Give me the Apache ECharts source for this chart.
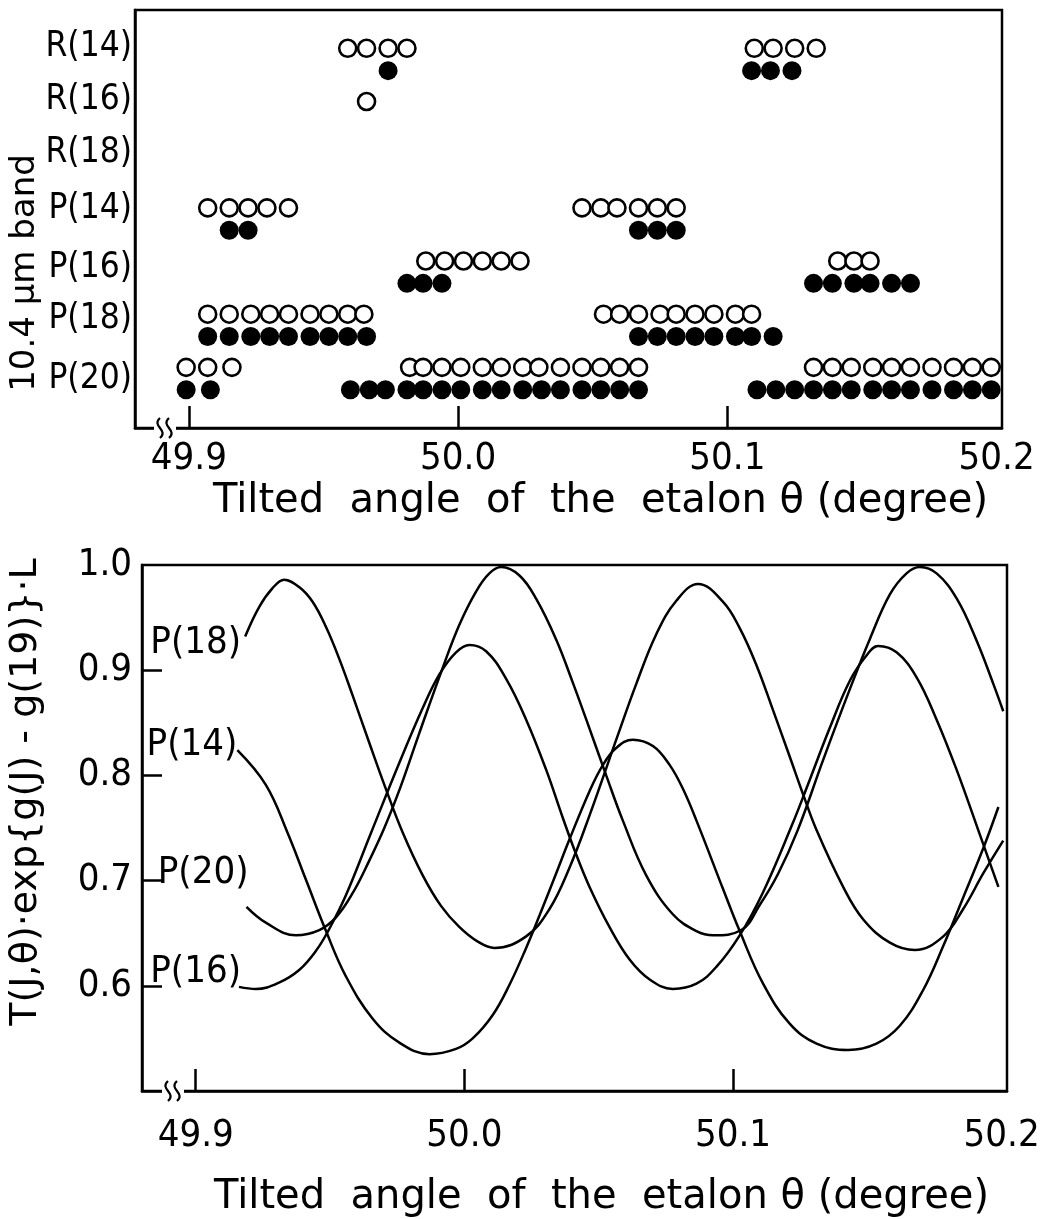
<!DOCTYPE html>
<html><head><meta charset="utf-8">
<script src="https://cdn.jsdelivr.net/npm/echarts@6/dist/echarts.min.js"></script>
<style>html,body{margin:0;padding:0;background:#fff}#c{width:1049px;height:1219px}</style>
</head><body><div id="c"></div>
<script>
// ---------- data ----------
const angleTicks = [49.9, 50.0, 50.1, 50.2];
const bandRows = ['P(20)', 'P(18)', 'P(16)', 'P(14)', 'R(18)', 'R(16)', 'R(14)'];
const valueTicks = [0.6, 0.7, 0.8, 0.9, 1.0];

// top panel: oscillating (open) / single-mode (filled) angles per line
const openP20 = [49.899, 49.907, 49.916, 49.982, 49.987, 49.994, 50.001, 50.009, 50.016, 50.024, 50.030, 50.038, 50.046, 50.053, 50.060, 50.067, 50.132, 50.139, 50.146, 50.154, 50.161, 50.168, 50.176, 50.184, 50.191, 50.198];
const filledP20 = [49.899, 49.908, 49.960, 49.967, 49.973, 49.981, 49.987, 49.994, 50.001, 50.009, 50.016, 50.024, 50.031, 50.038, 50.046, 50.053, 50.060, 50.067, 50.111, 50.118, 50.125, 50.132, 50.139, 50.146, 50.154, 50.161, 50.168, 50.176, 50.184, 50.191, 50.198];
const openP18 = [49.907, 49.915, 49.923, 49.930, 49.937, 49.945, 49.952, 49.959, 49.965, 50.054, 50.060, 50.067, 50.075, 50.081, 50.088, 50.095, 50.103, 50.109];
const filledP18 = [49.907, 49.915, 49.923, 49.930, 49.937, 49.945, 49.952, 49.959, 49.966, 50.067, 50.074, 50.081, 50.088, 50.095, 50.103, 50.109, 50.117];
const openP16 = [49.988, 49.995, 50.002, 50.009, 50.016, 50.023, 50.141, 50.147, 50.153];
const filledP16 = [49.981, 49.987, 49.994, 50.132, 50.139, 50.147, 50.153, 50.161, 50.168];
const openP14 = [49.907, 49.915, 49.922, 49.929, 49.937, 50.046, 50.053, 50.059, 50.067, 50.074, 50.081];
const filledP14 = [49.915, 49.922, 50.067, 50.074, 50.081];
const openR18 = [];
const filledR18 = [];
const openR16 = [49.966];
const filledR16 = [];
const openR14 = [49.959, 49.966, 49.974, 49.981, 50.110, 50.117, 50.125, 50.133];
const filledR14 = [49.974, 50.109, 50.116, 50.124];

// bottom panel: [angle, T·exp{g(J)-g(19)}·L]
const curveP18 = [[49.9184,0.932],[49.9236,0.960],[49.9286,0.978],[49.9329,0.986],[49.9385,0.979],[49.9435,0.965],[49.9485,0.941],[49.9534,0.911],[49.9584,0.876],[49.9646,0.831],[49.9708,0.787],[49.9770,0.746],[49.9845,0.705],[49.9913,0.676],[49.9981,0.656],[50.0050,0.642],[50.0112,0.636],[50.0230,0.647],[50.0317,0.673],[50.0391,0.712],[50.0466,0.762],[50.0571,0.838],[50.0640,0.887],[50.0714,0.934],[50.0789,0.966],[50.0870,0.982],[50.0963,0.965],[50.1025,0.940],[50.1087,0.905],[50.1149,0.862],[50.1211,0.818],[50.1261,0.782],[50.1311,0.748],[50.1410,0.694],[50.1485,0.663],[50.1584,0.641],[50.1677,0.634],[50.1783,0.647],[50.1857,0.673],[50.1932,0.707],[50.2006,0.738]];
const curveP14 = [[49.9155,0.824],[49.9261,0.791],[49.9341,0.746],[49.9410,0.701],[49.9485,0.652],[49.9559,0.609],[49.9658,0.569],[49.9758,0.546],[49.9870,0.535],[49.9969,0.540],[50.0031,0.550],[50.0105,0.572],[50.0168,0.601],[50.0230,0.636],[50.0280,0.667],[50.0342,0.707],[50.0391,0.739],[50.0466,0.785],[50.0516,0.810],[50.0565,0.826],[50.0627,0.834],[50.0702,0.828],[50.0764,0.810],[50.0814,0.787],[50.0864,0.757],[50.0963,0.692],[50.1025,0.652],[50.1112,0.602],[50.1211,0.564],[50.1311,0.545],[50.1429,0.539],[50.1534,0.545],[50.1621,0.562],[50.1708,0.596],[50.1783,0.638],[50.1857,0.684],[50.1932,0.731],[50.1988,0.770]];
const curveP20 = [[49.9189,0.675],[49.9261,0.660],[49.9373,0.648],[49.9460,0.653],[49.9522,0.665],[49.9584,0.688],[49.9646,0.719],[49.9702,0.750],[49.9758,0.786],[49.9832,0.840],[49.9919,0.902],[49.9981,0.943],[50.0044,0.975],[50.0093,0.992],[50.0137,0.998],[50.0205,0.990],[50.0267,0.968],[50.0342,0.929],[50.0404,0.888],[50.0454,0.853],[50.0528,0.800],[50.0590,0.757],[50.0677,0.705],[50.0776,0.668],[50.0864,0.652],[50.0926,0.648],[50.1031,0.653],[50.1100,0.677],[50.1167,0.706],[50.1241,0.748],[50.1336,0.815],[50.1435,0.882],[50.1510,0.930],[50.1584,0.972],[50.1646,0.992],[50.1696,0.998],[50.1758,0.992],[50.1833,0.968],[50.1907,0.928],[50.1969,0.887],[50.2006,0.861]];
const curveP16 = [[49.9161,0.599],[49.9224,0.597],[49.9310,0.603],[49.9385,0.615],[49.9447,0.633],[49.9497,0.654],[49.9559,0.686],[49.9652,0.745],[49.9758,0.812],[49.9845,0.864],[49.9907,0.896],[49.9969,0.917],[50.0019,0.924],[50.0081,0.918],[50.0155,0.892],[50.0230,0.853],[50.0305,0.805],[50.0366,0.760],[50.0416,0.725],[50.0466,0.694],[50.0540,0.656],[50.0615,0.625],[50.0690,0.606],[50.0776,0.597],[50.0864,0.602],[50.0938,0.618],[50.1025,0.648],[50.1112,0.689],[50.1220,0.753],[50.1274,0.788],[50.1360,0.845],[50.1435,0.890],[50.1497,0.914],[50.1540,0.923],[50.1609,0.917],[50.1684,0.893],[50.1758,0.853],[50.1833,0.805],[50.1913,0.748],[50.1988,0.694]];

const xTitle = 'Tilted  angle  of  the  etalon θ (degree)';
const yTitleTop = '10.4 μm band';
const yTitleBottom = 'T(J,θ)·exp{g(J) - g(19)}·L';

// ---------- chart ----------
const NARROW = "'Liberation Sans Narrow','DejaVu Sans Condensed',sans-serif";
const WIDE = "'DejaVu Sans',sans-serif";
const rowOpen = [openP20, openP18, openP16, openP14, openR18, openR16, openR14];
const rowFilled = [filledP20, filledP18, filledP16, filledP14, filledR18, filledR16, filledR14];
const openPts = [], filledPts = [];
rowOpen.forEach((arr, i) => arr.forEach(x => openPts.push([x, i + 0.21])));
rowFilled.forEach((arr, i) => arr.forEach(x => filledPts.push([x, i - 0.21])));

const labelLift = [0, 6, 4, 10, 13, 13, 13];
const rich = {};
labelLift.forEach((d, i) => { rich['r' + i] = { fontFamily: NARROW, fontSize: 35, color: '#000', padding: [0, 0, 2 * d, 0] }; });

const curves = [['P(18)', curveP18, [-2, 7]], ['P(14)', curveP14, [2, -5]], ['P(20)', curveP20, [4, -34]], ['P(16)', curveP16, [4, -15]]];

const axisBase = {
  type: 'value', min: 49.88, max: 50.202,
  axisLine: { show: true, onZero: false, lineStyle: { color: '#000', width: 2.5 } },
  splitLine: { show: false },
  axisTick: { show: true, inside: true, length: 22, lineStyle: { color: '#000', width: 2.5 }, customValues: angleTicks.slice(0, 3) },
  nameLocation: 'middle', nameMoveOverlap: false
};

function squiggle(x, y) {
  return [0, 9].map(dx => ({
    type: 'bezierCurve', z: 101,
    shape: { x1: x + dx, y1: y - 10, x2: x + dx, y2: y + 10, cpx1: x + dx - 9, cpy1: y - 2, cpx2: x + dx + 9, cpy2: y + 2 },
    style: { fill: null, stroke: '#000', lineWidth: 2.2 }
  }));
}

const option = {
  backgroundColor: '#fff',
  animation: false,
  grid: [
    { left: 135, top: 10, width: 867, height: 418, show: true, borderColor: '#000', borderWidth: 2.5, backgroundColor: 'transparent', containLabel: false, outerBoundsMode: 'none' },
    { left: 142, top: 565, width: 865, height: 526, show: true, borderColor: '#000', borderWidth: 2.5, backgroundColor: 'transparent', containLabel: false, outerBoundsMode: 'none' }
  ],
  xAxis: [
    Object.assign({}, axisBase, {
      gridIndex: 0,
      axisLabel: { customValues: angleTicks, formatter: v => v.toFixed(1), fontFamily: NARROW, fontSize: 38, color: '#000', margin: 12 },
      name: xTitle, nameGap: 54,
      nameTextStyle: { fontFamily: WIDE, fontSize: 40, color: '#000', padding: [0, 0, 0, 64] }
    }),
    Object.assign({}, axisBase, {
      gridIndex: 1,
      axisLabel: { customValues: angleTicks, formatter: v => v.toFixed(1), fontFamily: NARROW, fontSize: 38, color: '#000', margin: 26 },
      name: xTitle, nameGap: 87,
      nameTextStyle: { fontFamily: WIDE, fontSize: 40, color: '#000', padding: [0, 0, 0, 54] }
    })
  ],
  yAxis: [
    {
      gridIndex: 0, type: 'value', min: -0.93, max: 6.93,
      axisLine: { show: true, onZero: false, lineStyle: { color: '#000', width: 2.5 } },
      splitLine: { show: false }, axisTick: { show: false },
      axisLabel: { customValues: [0, 1, 2, 3, 4, 5, 6], formatter: v => '{r' + Math.round(v) + '|' + bandRows[Math.round(v)] + '}', rich: rich, margin: 3 },
      name: yTitleTop, nameLocation: 'middle', nameRotate: 90, nameGap: 93, nameMoveOverlap: false,
      nameTextStyle: { fontFamily: WIDE, fontSize: 34, color: '#000', padding: [0, 108, 0, 0] }
    },
    {
      gridIndex: 1, type: 'value', min: 0.5, max: 1.0,
      axisLine: { show: true, onZero: false, lineStyle: { color: '#000', width: 2.5 } },
      splitLine: { show: false },
      axisTick: { show: true, inside: true, length: 20, lineStyle: { color: '#000', width: 2.5 }, customValues: valueTicks.slice(0, 4) },
      axisLabel: { customValues: valueTicks, formatter: v => v.toFixed(1), fontFamily: NARROW, fontSize: 38, color: '#000', margin: 10 },
      name: yTitleBottom, nameLocation: 'middle', nameRotate: 90, nameGap: 97, nameMoveOverlap: false,
      nameTextStyle: { fontFamily: WIDE, fontSize: 38, color: '#000', padding: [0, 0, 0, 72] }
    }
  ],
  series: [
    { type: 'scatter', xAxisIndex: 0, yAxisIndex: 0, data: openPts, symbol: 'circle', symbolSize: 17,
      itemStyle: { color: '#fff', borderColor: '#000', borderWidth: 2.6, opacity: 1 }, z: 3 },
    { type: 'scatter', xAxisIndex: 0, yAxisIndex: 0, data: filledPts, symbol: 'circle', symbolSize: 19,
      itemStyle: { color: '#000', opacity: 1 }, z: 2 }
  ].concat(curves.map(([name, pts, off]) => ({
    type: 'line', name: name, xAxisIndex: 1, yAxisIndex: 1, data: pts, smooth: 0.4,
    showSymbol: false, lineStyle: { color: '#000', width: 2.5 },
    markPoint: {
      symbol: 'circle', symbolSize: 0,
      data: [{ coord: pts[0], value: name }],
      label: { show: true, position: 'left', distance: 2, offset: off, formatter: name, fontFamily: NARROW, fontSize: 38, color: '#000' }
    }
  }))),
  graphic: [
    { type: 'rect', z: 100, shape: { x: 154, y: 423, width: 22, height: 10 }, style: { fill: '#fff' } },
    { type: 'rect', z: 100, shape: { x: 162, y: 1086, width: 22, height: 10 }, style: { fill: '#fff' } }
  ].concat(squiggle(160, 428), squiggle(168, 1091))
};
const chart = echarts.init(document.getElementById('c'), null, { renderer: 'canvas' });
chart.setOption(option);
</script></body></html>
